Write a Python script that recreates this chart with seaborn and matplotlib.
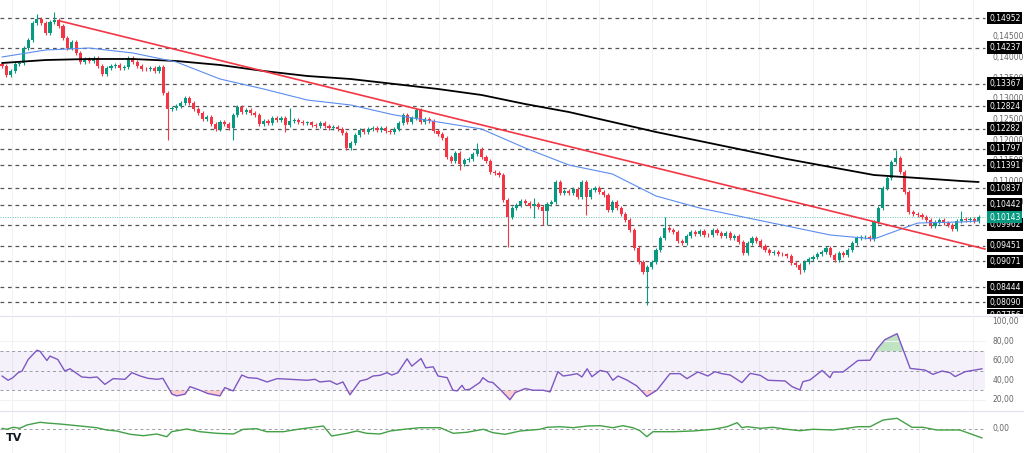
import matplotlib
matplotlib.use("Agg")
import matplotlib.pyplot as plt
from matplotlib.lines import Line2D
import numpy as np
import seaborn as sns

# candle closes (open = previous close)
first_open = 0.13841
closes = [
    0.13792, 0.13575, 0.13672, 0.13841, 0.13865, 0.14227, 0.14421, 0.14831, 0.14928, 0.14831,
    0.14590, 0.14855, 0.14904, 0.14759, 0.14469, 0.14227, 0.14372, 0.14107, 0.13889, 0.13962,
    0.13913, 0.13986, 0.13792, 0.13599, 0.13744, 0.13792, 0.13817, 0.13744, 0.13768, 0.13986,
    0.13889, 0.13792, 0.13720, 0.13715, 0.13744, 0.13672, 0.13768, 0.13140, 0.12754, 0.12778,
    0.12826, 0.12899, 0.13019, 0.12899, 0.12754, 0.12657, 0.12512, 0.12560, 0.12391, 0.12270,
    0.12440, 0.12391, 0.12295, 0.12609, 0.12802, 0.12681, 0.12729, 0.12657, 0.12609, 0.12391,
    0.12464, 0.12415, 0.12536, 0.12488, 0.12536, 0.12367, 0.12464, 0.12488, 0.12440, 0.12415,
    0.12435, 0.12367, 0.12343, 0.12415, 0.12343, 0.12295, 0.12319, 0.12270, 0.12174, 0.11811,
    0.11932, 0.12125, 0.12246, 0.12198, 0.12270, 0.12295, 0.12246, 0.12295, 0.12222, 0.12198,
    0.12270, 0.12415, 0.12609, 0.12440, 0.12536, 0.12729, 0.12440, 0.12512, 0.12464, 0.12222,
    0.12150, 0.12053, 0.11594, 0.11497, 0.11691, 0.11425, 0.11521, 0.11546, 0.11666, 0.11787,
    0.11594, 0.11497, 0.11232, 0.11207, 0.11159, 0.10555, 0.10144, 0.10362, 0.10434, 0.10531,
    0.10483, 0.10410, 0.10458, 0.10386, 0.10289, 0.10458, 0.10507, 0.10990, 0.10724, 0.10772,
    0.10724, 0.10821, 0.10628, 0.10990, 0.10628, 0.10797, 0.10845, 0.10748, 0.10676, 0.10313,
    0.10507, 0.10362, 0.10217, 0.10072, 0.09830, 0.09395, 0.09057, 0.08816, 0.08936, 0.09057,
    0.09347, 0.09637, 0.09879, 0.09830, 0.09782, 0.09564, 0.09516, 0.09685, 0.09782, 0.09734,
    0.09806, 0.09709, 0.09700, 0.09830, 0.09758, 0.09685, 0.09758, 0.09637, 0.09685, 0.09540,
    0.09275, 0.09516, 0.09637, 0.09564, 0.09444, 0.09347, 0.09275, 0.09299, 0.09250, 0.09245,
    0.09202, 0.09033, 0.08985, 0.08864, 0.09057, 0.09130, 0.09178, 0.09250, 0.09299, 0.09395,
    0.09226, 0.09105, 0.09275, 0.09226, 0.09347, 0.09516, 0.09637, 0.09661, 0.09665, 0.09613,
    0.10024, 0.10362, 0.10845, 0.11087, 0.11473, 0.11570, 0.11232, 0.10748, 0.10265, 0.10217,
    0.10193, 0.10144, 0.10072, 0.09927, 0.10024, 0.10072, 0.09999, 0.09951, 0.09854, 0.10048,
    0.10096, 0.10072, 0.10096, 0.10048, 0.10143,
]
# notable wicks {candle index: price}
wick_high = {8: 0.15049, 12: 0.15097, 66: 0.12778, 109: 0.11932, 122: 0.10603,
             152: 0.10144, 205: 0.11763, 220: 0.10289}
wick_low = {38: 0.12005, 53: 0.12005, 65: 0.12198, 79: 0.11763, 105: 0.11280,
            116: 0.09420, 122: 0.10120, 124: 0.09951, 125: 0.09951, 134: 0.10193,
            148: 0.08018, 183: 0.08767}

# moving averages sampled every 10 candles
ma_idx = [0, 10, 20, 30, 40, 50, 60, 70, 80, 90, 100, 110, 120, 130, 140, 150,
          160, 170, 180, 190, 200, 210, 220, 224]
ma_fast = [0.14010, 0.14179, 0.14227, 0.14107, 0.13889, 0.13478, 0.13237, 0.12971,
           0.12850, 0.12609, 0.12440, 0.12270, 0.11811, 0.11401, 0.11183, 0.10652,
           0.10362, 0.10144, 0.09927, 0.09709, 0.09613, 0.09999, 0.10024, 0.10048]
ma_slow = [0.13865, 0.13937, 0.13962, 0.13962, 0.13913, 0.13817, 0.13672, 0.13551,
           0.13478, 0.13358, 0.13237, 0.13092, 0.12874, 0.12681, 0.12440, 0.12198,
           0.11981, 0.11763, 0.11546, 0.11352, 0.11159, 0.11087, 0.11014, 0.10990]
trend_idx = [13.3, 225.5]
trend_price = [0.1488, 0.0937]

levels = [0.14952, 0.14237, 0.13367, 0.12824, 0.12282, 0.11797, 0.11391, 0.10837,
          0.10442, 0.09962, 0.09451, 0.09071, 0.08444, 0.08090, 0.07756]
scale_ticks = [0.145, 0.140, 0.135, 0.130, 0.125, 0.120, 0.115, 0.110, 0.105]
last_price = 0.10143

rsi_idx = [0, 1.4, 2.5, 3.7, 4.6, 6.0, 8.0, 8.7, 10.3, 11.0, 12.8, 14.4, 15.6, 18.3, 20.2,
           21.8, 23.6, 25.5, 28.2, 29.8, 31.7, 33.5, 35.6, 36.9, 39.0, 40.1, 42.0, 43.1,
           45.4, 47.2, 50.0, 51.1, 53.0, 55.0, 56.4, 58.5, 60.8, 63.1, 66.1, 70.0, 71.8,
           72.9, 75.2, 76.8, 78.2, 79.8, 82.1, 83.7, 85.1, 86.7, 88.3, 89.4, 90.8, 92.9,
           94.0, 96.1, 97.2, 98.9, 100.0, 102.1, 103.4, 104.4, 105.5, 106.2, 107.3, 109.6,
           110.3, 111.5, 112.6, 114.2, 116.5, 117.7, 120.0, 121.8, 124.1, 125.7, 127.5,
           128.7, 130.3, 131.9, 133.0, 134.2, 135.3, 137.2, 138.8, 140.1, 141.3, 143.3,
           145.6, 147.9, 150.2, 153.2, 155.5, 157.1, 159.6, 161.9, 163.5, 165.1, 167.0,
           169.7, 171.6, 173.9, 175.7, 179.6, 181.2, 183.0, 183.7, 185.3, 188.1, 189.9,
           190.6, 192.9, 196.3, 199.1, 200.7, 202.5, 205.3, 208.3, 211.7, 213.5, 215.6,
           217.4, 218.6, 220.9, 224.8]
rsi_val = [44.6, 40.2, 42.9, 48, 49.7, 61.5, 71, 70, 60.5, 65, 61.5, 49.7, 52, 43.6, 42.9,
           43.6, 36, 41.9, 41.2, 48, 44.6, 42.2, 41.2, 42.2, 26, 24.2, 26, 33.7,
           30, 26.6, 24.2, 32.7, 29.3, 45.6, 42.9, 42.2, 38.5, 41.9, 41.2, 40.2, 41.2,
           38.5, 39.5, 36, 38.5, 25.3, 39.5, 41.2, 44.6, 45.3, 48, 45.6, 48, 62.2,
           54.7, 62.5, 53, 54, 44.6, 42.9, 30, 29.3, 35, 30.3, 31, 38,
           42.9, 38.8, 37.8, 31, 20.2, 27.6, 31.7, 30, 30, 28.3, 49,
           44.6, 45.6, 47, 43.6, 52, 43.9, 50.3, 48.7, 40.2, 44.6, 40.5,
           34.4, 23.6, 30, 47, 47, 41.9, 48.7, 44.6, 49, 47, 45.6,
           37.8, 47.3, 45.3, 40.2, 39.5, 33.7, 30.3, 38.8, 40.5, 50.3, 42.9,
           48.7, 48.7, 60.5, 60.8, 72.4, 81.9, 88, 52.4, 50.7, 46.3, 49.7,
           48, 44, 49, 52]

osc_idx = [0, 1.1, 2.6, 4.1, 5.7, 8.7, 11.0, 13.3, 17.9, 21.7, 24.0, 26.3, 29.4, 32.4,
           35.5, 37.8, 38.9, 42.4, 45.4, 49.2, 53.1, 55.3, 58.4, 60.7, 64.5, 68.3, 71.4,
           73.7, 75.6, 79.1, 81.4, 83.6, 86.7, 89.0, 92.8, 95.9, 100.5, 103.5, 106.6,
           110.4, 112.6, 115.4, 118.8, 123.4, 125.0, 128.0, 131.0, 134.2, 137.2, 140.1,
           142.4, 144.7, 146.3, 147.9, 149.3, 153.9, 158.5, 163.1, 166.3, 168.6, 169.7,
           170.9, 173.9, 176.8, 180.0, 183.0, 186.0, 190.6, 193.8, 196.3, 199.1, 202.1,
           205.3, 208.7, 211.2, 214.4, 219.7, 224.8]
osc_val = [0.7, -0.3, 1.7, 0.7, 4, 6.7, 5.7, 5, 3, 1.3, -1, -2, -5.3, -6.7,
           -5, -7.7, -2.7, 0, -2.7, -4.3, -5, -0.3, 0.3, -2.7, -2.7, 0, 1.7,
           3, -7, -4.3, -2, -4.3, -5, -2, 0, 1.3, 1.3, -4.3, -3.3,
           -0.3, -3.7, -5.3, -2, -0.3, 1.7, 2.3, 1.3, 3, 3.3, 1.3,
           3.3, 1.3, -1.7, -7.7, -2.7, -2.7, -2, -0.3, 2.3, 6.3, 1.3,
           2.3, 0.7, 1.7, -0.3, -1.7, -0.3, -1, 0.7, 2.3, 2.3, 9,
           10.7, 1.7, 1.7, -1, -1, -9]

sns.set_style("white")
plt.rcParams["font.family"] = ["DejaVu Sans"]

UP, DOWN = "#089981", "#f23645"
XMIN, XMAX = -0.46, 234.4
PLOT_R = 985 / 1024
LABEL_X = 0.966
grid_x = [2.3 + 12.24 * k for k in range(19)]

fig = plt.figure(figsize=(10.24, 4.53), dpi=100)
ax = fig.add_axes([0, 139 / 453, 1, 314 / 453])
ax_rsi = fig.add_axes([0, 42 / 453, 1, 94 / 453])
ax_osc = fig.add_axes([0, 0, 1, 42 / 453])
for a in (ax, ax_rsi, ax_osc):
    a.set_xlim(XMIN, XMAX)
    a.set_axis_off()
    for gx in grid_x:
        a.axvline(gx, color="#f0f2f6", lw=0.8, zorder=0)

# ---- price panel
ax.set_ylim(0.07801, 0.15387)
idx = np.arange(len(closes))
c = np.array(closes)
o = np.concatenate([[first_open], c[:-1]])
colors = np.where(c >= o, UP, DOWN)
hi = np.maximum(o, c) + 0.0004
lo = np.minimum(o, c) - 0.0004
for k, v in wick_high.items():
    hi[k] = v
for k, v in wick_low.items():
    lo[k] = v
ax.vlines(idx, lo, hi, colors=colors, lw=0.8, zorder=3)
body = np.maximum(np.abs(c - o), 0.00012)
ax.bar(idx, body, bottom=np.minimum(o, c), width=0.72, color=colors, lw=0, zorder=4)

for lv in levels:
    ax.axhline(lv, xmin=0, xmax=PLOT_R, color="#555555", lw=0.9, ls=(0, (3, 3)), zorder=1)
ax.axhline(last_price, xmin=0, xmax=PLOT_R, color=UP, lw=0.7, ls=(0, (1, 1.5)), alpha=0.6, zorder=2)

sns.lineplot(x=ma_idx, y=ma_slow, ax=ax, color="black", lw=1.3, zorder=5)
sns.lineplot(x=ma_idx, y=ma_fast, ax=ax, color="#5b8def", lw=0.8, zorder=5)
sns.lineplot(x=trend_idx, y=trend_price, ax=ax, color="#f23645", lw=1.2, zorder=6)

trans = ax.get_yaxis_transform()
for t in scale_ticks:
    ax.text(LABEL_X + 0.003, t, f"{t:.5f}".replace(".", ","), transform=trans,
            fontsize=5.5, color="#666666", va="center", ha="left")
for lv in levels:
    ax.text(LABEL_X, lv, f"{lv:.5f}".replace(".", ","), transform=trans, fontsize=5.5,
            color="white", va="center", ha="left", clip_on=True, zorder=10,
            bbox=dict(boxstyle="square,pad=0.25", fc="black", ec="none"))
ax.text(LABEL_X, last_price, f"{last_price:.5f}".replace(".", ","), transform=trans,
        fontsize=5.5, color="white", va="center", ha="left", zorder=11,
        bbox=dict(boxstyle="square,pad=0.25", fc=UP, ec="none"))

# ---- RSI panel
ax_rsi.set_ylim(8.7, 105.1)
ax_rsi.axhspan(30, 70, xmin=0, xmax=PLOT_R, color="#7e57c2", alpha=0.08, lw=0)
for lv in (70, 50, 30):
    ax_rsi.axhline(lv, xmin=0, xmax=PLOT_R, color="#9a9ca5", lw=0.7, ls=(0, (3, 3)))
for lv in (80, 20):
    ax_rsi.axhline(lv, xmin=0, xmax=PLOT_R, color="#f0f2f6", lw=0.8)
r = np.array(rsi_val)
ax_rsi.fill_between(rsi_idx, r, 70, where=r > 70, interpolate=True, color="#4caf50", alpha=0.35, lw=0)
ax_rsi.fill_between(rsi_idx, r, 30, where=r < 30, interpolate=True, color="#f23645", alpha=0.25, lw=0)
sns.lineplot(x=rsi_idx, y=rsi_val, ax=ax_rsi, color="#7e57c2", lw=1.0)
rtrans = ax_rsi.get_yaxis_transform()
for lv in (100, 80, 60, 40, 20):
    ax_rsi.text(LABEL_X + 0.003, lv, f"{lv:.2f}".replace(".", ","), transform=rtrans,
                fontsize=5.5, color="#666666", va="center", ha="left")

# ---- oscillator panel
ax_osc.set_ylim(-24, 18)
ax_osc.axhline(0, xmin=0, xmax=PLOT_R, color="#9a9ca5", lw=0.7, ls=(0, (3, 3)))
sns.lineplot(x=osc_idx, y=osc_val, ax=ax_osc, color="#43a047", lw=1.0)
ax_osc.text(LABEL_X + 0.003, 0, "0,00", transform=ax_osc.get_yaxis_transform(),
            fontsize=5.5, color="#666666", va="center", ha="left")
fig.text(6 / 1024, 1 - 438 / 453, "TV", fontsize=8, fontweight="heavy", color="#131722",
         va="center", ha="left")

for ypx in (316, 411):
    fig.add_artist(Line2D([0, 1], [1 - ypx / 453] * 2, transform=fig.transFigure,
                          color="#e0e3eb", lw=0.8))

fig.savefig("out.png", dpi=100)
plt.close(fig)
